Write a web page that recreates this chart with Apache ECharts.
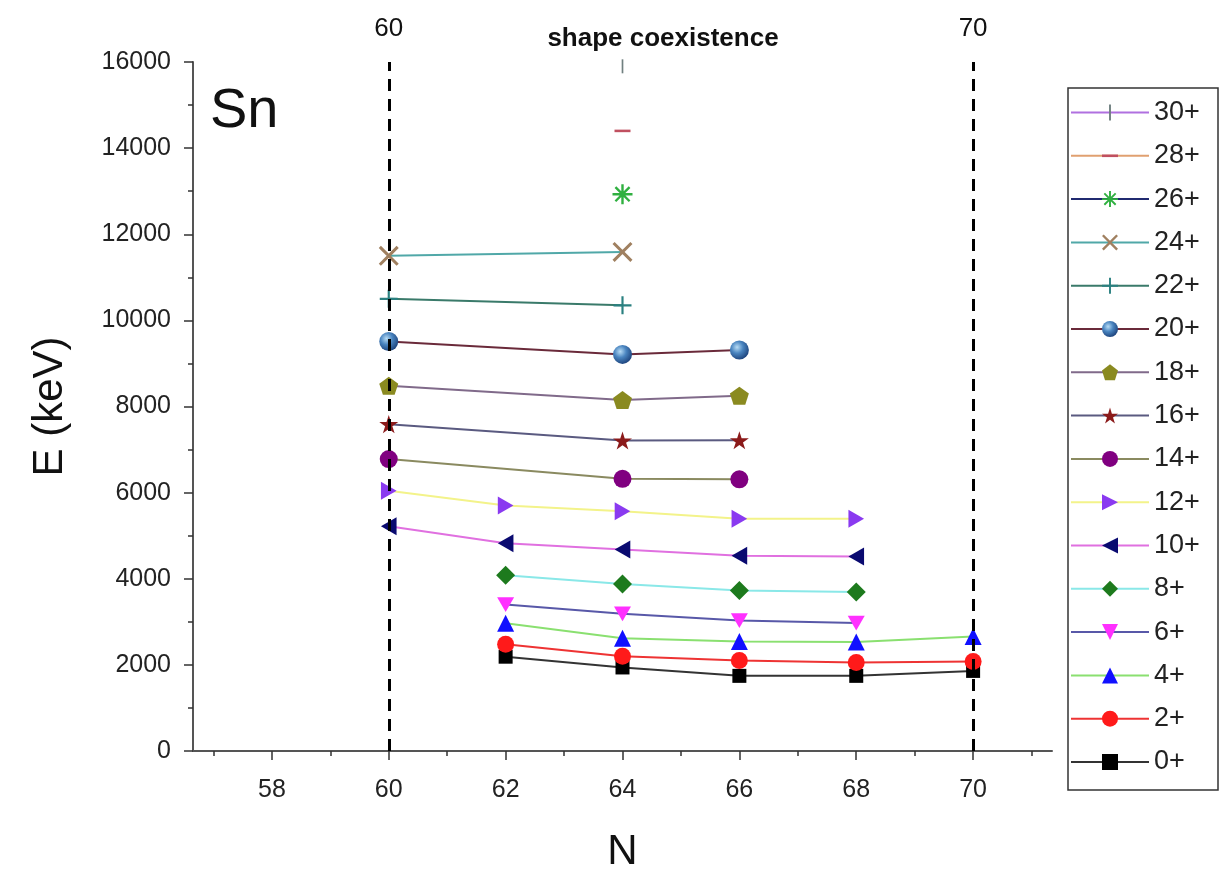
<!DOCTYPE html>
<html><head><meta charset="utf-8">
<script src="https://cdn.jsdelivr.net/npm/echarts@6/dist/echarts.min.js"></script>
<style>html,body{margin:0;padding:0;background:#fff}#c{width:1231px;height:878px}</style>
</head><body><div id="c"></div>
<script>
// ---- data (N = neutron number, E in keV) ----
const names = ['0+','2+','4+','6+','8+','10+','12+','14+','16+','18+','20+','22+','24+','26+','28+','30+'];
const N_0  = [62,64,66,68,70];   const E_0  = [2190,1940,1745,1745,1860];
const N_2  = [62,64,66,68,70];   const E_2  = [2480,2200,2100,2055,2080];
const N_4  = [62,64,66,68,70];   const E_4  = [2965,2620,2540,2530,2660];
const N_6  = [62,64,66,68];      const E_6  = [3400,3185,3030,2970];
const N_8  = [62,64,66,68];      const E_8  = [4080,3880,3725,3694];
const N_10 = [60,62,64,66,68];   const E_10 = [5220,4825,4680,4535,4515];
const N_12 = [60,62,64,66,68];   const E_12 = [6045,5700,5565,5395,5395];
const N_14 = [60,64,66];         const E_14 = [6780,6320,6310];
const N_16 = [60,64,66];         const E_16 = [7590,7210,7215];
const N_18 = [60,64,66];         const E_18 = [8480,8150,8250];
const N_20 = [60,64,66];         const E_20 = [9510,9210,9310];
const N_22 = [60,64];            const E_22 = [10500,10350];
const N_24 = [60,64];            const E_24 = [11500,11590];
const N_26 = [64];               const E_26 = [12930];
const N_28 = [64];               const E_28 = [14400];
const N_30 = [64];               const E_30 = [15900];
const Ns = [N_0,N_2,N_4,N_6,N_8,N_10,N_12,N_14,N_16,N_18,N_20,N_22,N_24,N_26,N_28,N_30];
const Es = [E_0,E_2,E_4,E_6,E_8,E_10,E_12,E_14,E_16,E_18,E_20,E_22,E_24,E_26,E_28,E_30];
const xLabelValues = [58,60,62,64,66,68,70];
const xMinorValues = [57,59,61,63,65,67,69,71];
const refLines = [60,70];

// ---- styles ----
const S = {
  down: 'path://M0,0L100,0L50,87Z',
  left: 'path://M87,0L0,50L87,100Z',
  right: 'path://M0,0L87,50L0,100Z',
  star: 'path://M50,0L61.17,34.63L97.55,34.55L68.07,55.87L79.39,90.45L50,69L20.61,90.45L31.93,55.87L2.45,34.55L38.83,34.63Z',
  pent: 'path://M50,0L97.55,34.55L79.39,90.45L20.61,90.45L2.45,34.55Z',
  plus: 'path://M44,0L56,0L56,100L44,100ZM0,44L100,44L100,56L0,56Z',
  cross: 'path://M18.88,10.40L89.60,81.12L81.12,89.60L10.40,18.88ZM89.60,18.88L18.88,89.60L10.40,81.12L81.12,10.40Z',
  aster: 'path://M0,44L100,44L100,56L0,56ZM56,0L56,100L44,100L44,0ZM18.88,10.40L89.60,81.12L81.12,89.60L10.40,18.88ZM89.60,18.88L18.88,89.60L10.40,81.12L81.12,10.40Z',
  bar: 'path://M0,0L0,0M100,0L100,0M44,0L56,0L56,100L44,100Z',
  dash: 'path://M0,0L0,0M0,100L0,100M0,42L100,42L100,58L0,58Z'
};
const sphere = {type:'radial', x:0.38, y:0.35, r:0.7, colorStops:[{offset:0,color:'#b8dcf5'},{offset:0.45,color:'#4a85c0'},{offset:1,color:'#1a3f78'}]};
const styles = [
  {sym:'rect',   size:14, mc:'#000000', lc:'#333333'},
  {sym:'circle', size:17, mc:'#ff1a1a', lc:'#ee3333'},
  {sym:'triangle', size:17, mc:'#1010ff', lc:'#8ae070'},
  {sym:S.down,   size:17, mc:'#ff30ff', lc:'#5858a8'},
  {sym:'diamond',size:19, mc:'#1d7a1d', lc:'#8ae8e8'},
  {sym:S.left,   size:18, mc:'#0a0a70', lc:'#e070e0'},
  {sym:S.right,  size:18, mc:'#8a3af0', lc:'#f3f38a'},
  {sym:'circle', size:18, mc:'#800080', lc:'#8a8a60'},
  {sym:S.star,   size:19, mc:'#8b1a1a', lc:'#5a5a80'},
  {sym:S.pent,   size:19, mc:'#8a8a20', lc:'#806a8a'},
  {sym:'circle', size:19, mc:sphere,    lc:'#6a2a3a'},
  {sym:S.plus,   size:18, mc:'#2a8080', lc:'#3a7a6a'},
  {sym:S.cross,  size:20, mc:'#a08060', lc:'#50a8a8'},
  {sym:S.aster,  size:20, mc:'#30b040', lc:'#202a70'},
  {sym:S.dash,   size:16, mc:'#c05060', lc:'#e0a070'},
  {sym:S.bar,    size:14, mc:'#708080', lc:'#b070e0'}
];

const FONT = 'Liberation Sans';
const series = names.map((nm, i) => {
  const st = styles[i];
  return {
    name: nm, type: 'line',
    data: Ns[i].map((n, k) => [n, Es[i][k]]),
    symbol: st.sym, symbolSize: st.size, symbolKeepAspect: true,
    showAllSymbol: true,
    itemStyle: {color: st.mc},
    lineStyle: {color: st.lc, width: 2},
    emphasis: {disabled: true},
    z: 3
  };
});
series.unshift({
  name: 'ref', type: 'line', data: [], z: 2, silent: true,
  markLine: {
    silent: true, symbol: ['none','none'],
    lineStyle: {color:'#000', width: 3, type: [12, 8]},
    label: {show: true, position: 'end', distance: 20, formatter: p => String(p.value),
            color:'#111', fontSize: 26, fontFamily: FONT},
    data: refLines.map(v => ({xAxis: v}))
  }
});

const chart = echarts.init(document.getElementById('c'), null, {renderer:'canvas'});
chart.setOption({
  animation: false,
  backgroundColor: '#fff',
  grid: {left: 193, right: 179, top: 62, bottom: 123, containLabel: false},
  xAxis: [{
    type: 'value', min: 56.65, max: 71.35,
    name: 'N', nameLocation: 'middle', nameGap: 80,
    nameTextStyle: {fontSize: 42, fontFamily: FONT, color:'#111'},
    axisLine: {show: true, lineStyle: {color:'#555', width: 2}},
    axisTick: {show: true, length: 9, customValues: xLabelValues, lineStyle:{color:'#333', width:1.5}},
    axisLabel: {customValues: xLabelValues, fontSize: 25, fontFamily: FONT, color:'#222', margin: 27},
    splitLine: {show: false}
  },{
    type: 'value', min: 56.65, max: 71.35, position: 'bottom',
    axisLine: {show: false},
    axisTick: {show: true, length: 5, customValues: xMinorValues, lineStyle:{color:'#333', width:1.5}},
    axisLabel: {show: false},
    splitLine: {show: false}
  }],
  yAxis: {
    type: 'value', min: 0, max: 16000, interval: 2000,
    name: 'E (keV)', nameLocation: 'middle', nameGap: 122, nameRotate: 90,
    nameTextStyle: {fontSize: 42, fontFamily: FONT, color:'#111'},
    axisLine: {show: true, lineStyle: {color:'#555', width: 2}},
    axisTick: {show: true, length: 9, lineStyle:{color:'#333', width:1.5}},
    minorTick: {show: true, splitNumber: 2, length: 5, lineStyle:{color:'#333', width:1.5}},
    axisLabel: {fontSize: 25, fontFamily: FONT, color:'#222', margin: 22, formatter: v => String(v)},
    splitLine: {show: false}
  },
  legend: {
    orient: 'vertical', left: 1070, top: 99, padding: 0,
    data: names.slice().reverse(),
    itemWidth: 78, itemHeight: 20, itemGap: 16.3,
    selectedMode: false,
    textStyle: {fontSize: 27, fontFamily: FONT, color:'#222'}
  },
  graphic: [
    {type:'rect', shape:{x:1068, y:88, width:150, height:702}, style:{fill:'none', stroke:'#333', lineWidth:1.5}, silent:true},
    {type:'text', x:210, y:112, style:{text:'Sn', font:'56px "Liberation Sans"', fill:'#111', textVerticalAlign:'middle'}},
    {type:'text', x:663, y:39, style:{text:'shape coexistence', font:'bold 26px "Liberation Sans"', fill:'#111', textAlign:'center', textVerticalAlign:'middle'}}
  ],
  series: series
});
</script></body></html>
